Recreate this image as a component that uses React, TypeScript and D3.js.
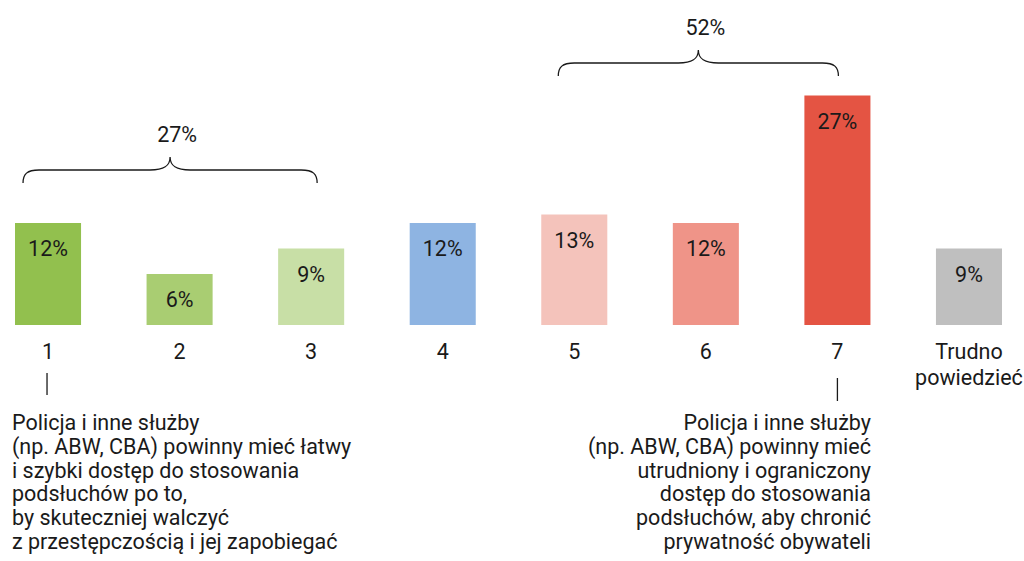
import React from 'react'
import * as d3 from 'd3'

const categories = ['1', '2', '3', '4', '5', '6', '7', 'Trudno\npowiedzieć']
const values = [12, 6, 9, 12, 13, 12, 27, 9]
const colors = ['#92c04e', '#a9cd72', '#c8dfa6', '#8eb4e2', '#f4c3bb', '#ef9488', '#e45443', '#bfbfbf']

const braceFrom = ['1', '5']
const braceTo = ['3', '7']
const braceLabels = ['27%', '52%']

const leftNote = [
  'Policja i inne służby',
  '(np. ABW, CBA) powinny mieć łatwy',
  'i szybki dostęp do stosowania',
  'podsłuchów po to,',
  'by skuteczniej walczyć',
  'z przestępczością i jej zapobiegać',
]
const rightNote = [
  'Policja i inne służby',
  '(np. ABW, CBA) powinny mieć',
  'utrudniony i ograniczony',
  'dostęp do stosowania',
  'podsłuchów, aby chronić',
  'prywatność obywateli',
]

const width = 1024
const height = 561
const font = 'Roboto, "Noto Sans", sans-serif'
const fontSize = 21.5
const textColor = '#1a1a1a'

// brace layout (pixels relative to first/last bar centre)
const braceInset = [[-25, 6], [-16, 1]]
const braceTop = [157, 50]

const bracePath = (x0: number, x1: number, yt: number) => {
  const yh = yt + 13
  const yb = yh + 13
  const xm = (x0 + x1) / 2
  const p = d3.path()
  p.moveTo(x0, yb)
  p.bezierCurveTo(x0, yh + 4, x0 + 4, yh, x0 + 16, yh)
  p.lineTo(xm - 20, yh)
  p.bezierCurveTo(xm - 6, yh, xm, yh - 4, xm, yt)
  p.bezierCurveTo(xm, yh - 4, xm + 6, yh, xm + 20, yh)
  p.lineTo(x1 - 16, yh)
  p.bezierCurveTo(x1 - 4, yh, x1, yh + 4, x1, yb)
  return p.toString()
}

const App: React.FunctionComponent = () => {
  const x = d3.scaleBand<string>().domain(categories).range([15, 1002]).paddingInner(0.498).paddingOuter(0)
  const y = d3.scaleLinear().domain([0, 27]).range([325, 95.5])
  const bw = x.bandwidth()
  const cx = (c: string) => (x(c) || 0) + bw / 2

  return (
    <svg
      width={width}
      height={height}
      style={{ position: 'absolute', left: 0, top: 0, background: '#fff' }}
      fontFamily={font}
      fontSize={fontSize}
      fill={textColor}
    >
      {categories.map((c, i) => (
        <g key={c}>
          <rect x={x(c)} y={y(values[i])} width={bw} height={y(0) - y(values[i])} fill={colors[i]} />
          <text x={cx(c)} y={y(values[i]) + 33} textAnchor="middle">
            {values[i]}%
          </text>
          {c.split('\n').map((line, j) => (
            <text key={j} x={cx(c)} y={359 + j * 26} textAnchor="middle">
              {line}
            </text>
          ))}
        </g>
      ))}

      {braceLabels.map((label, i) => {
        const x0 = cx(braceFrom[i]) + braceInset[i][0]
        const x1 = cx(braceTo[i]) + braceInset[i][1]
        const xm = (x0 + x1) / 2
        return (
          <g key={label}>
            <path d={bracePath(x0, x1, braceTop[i])} fill="none" stroke={textColor} strokeWidth={1.3} />
            <text x={xm + 7} y={braceTop[i] - 15} textAnchor="middle">
              {label}
            </text>
          </g>
        )
      })}

      <line x1={cx('1') - 1} x2={cx('1') - 1} y1={373} y2={395} stroke={textColor} strokeWidth={1.3} />
      <line x1={cx('7')} x2={cx('7')} y1={378} y2={401} stroke={textColor} strokeWidth={1.3} />

      {leftNote.map((line, i) => (
        <text key={i} x={12} y={430 + i * 23.8}>
          {line}
        </text>
      ))}
      {rightNote.map((line, i) => (
        <text key={i} x={871} y={430 + i * 23.8} textAnchor="end">
          {line}
        </text>
      ))}
    </svg>
  )
}

export default App
